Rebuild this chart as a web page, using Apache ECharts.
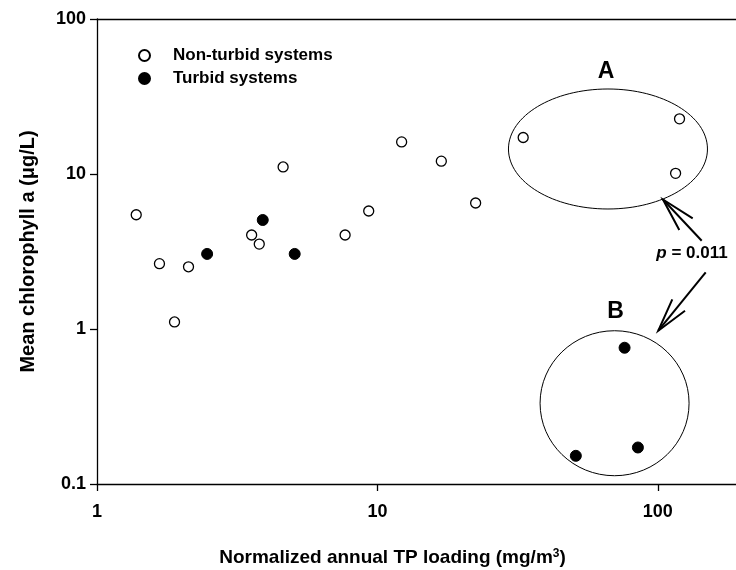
<!DOCTYPE html>
<html>
<head>
<meta charset="utf-8">
<script src="https://cdn.jsdelivr.net/npm/echarts@6/dist/echarts.min.js"></script>
<style>
html, body { margin: 0; padding: 0; background: #fff; }
#main { width: 736px; height: 570px; }
</style>
</head>
<body>
<div id="main"></div>
<script>
var font = '"Liberation Sans", Arial, sans-serif';

// normalized annual TP loading (mg/m3) and mean chlorophyll a (ug/L)
var nonTurbidTP  = [1.38, 1.67, 1.89, 2.12, 3.56, 3.79, 4.61, 7.67, 9.31, 12.2, 16.9, 22.4, 33.1, 115.7, 119.5];
var nonTurbidChl = [5.46, 2.64, 1.11, 2.52, 4.04, 3.53, 11.1, 4.04, 5.77, 16.1, 12.1, 6.5, 17.2, 10.1, 22.7];
var turbidTP  = [2.47, 3.90, 5.07, 51.0, 76.1, 84.9];
var turbidChl = [3.05, 5.05, 3.05, 0.152, 0.757, 0.172];

var seriesNames = ['Non-turbid systems', 'Turbid systems'];

function pairs(xs, ys) {
    return xs.map(function (x, i) { return [x, ys[i]]; });
}

var myChart = echarts.init(document.getElementById('main'));

var labelStyle = {
    color: '#000',
    fontSize: 18,
    fontWeight: 'bold',
    fontFamily: font
};
var blackLine = { color: '#000', width: 1.3 };

option = {
    animation: false,
    backgroundColor: '#fff',
    grid: { left: 97, right: 0, top: 19, bottom: 86, outerBoundsMode: 'none', containLabel: false },
    legend: {
        orient: 'vertical',
        left: 133,
        top: 42,
        itemWidth: 11,
        itemHeight: 11,
        itemGap: 6,
        data: seriesNames,
        textStyle: {
            color: '#000',
            fontSize: 17,
            fontWeight: 'bold',
            fontFamily: font,
            padding: [0, 0, 0, 18]
        }
    },
    xAxis: [
        {
            type: 'log',
            logBase: 10,
            min: 1,
            max: 190,
            position: 'bottom',
            name: '{t|Normalized annual TP loading (mg/m}{s|3}{t|)}',
            nameLocation: 'middle',
            nameGap: 64,
            nameTextStyle: {
                padding: [0, 48, 0, 0],
                rich: {
                    t: { fontSize: 19, fontWeight: 'bold', fontFamily: font, color: '#000' },
                    s: { fontSize: 12, fontWeight: 'bold', fontFamily: font, color: '#000',
                         verticalAlign: 'top', padding: [0, 0, 7, 0] }
                }
            },
            axisLine: { onZero: false, lineStyle: blackLine },
            axisTick: { show: true, length: 7, lineStyle: blackLine },
            axisLabel: Object.assign({ margin: 19, showMaxLabel: false }, labelStyle),
            splitLine: { show: false }
        },
        {
            type: 'log',
            min: 1,
            max: 190,
            position: 'top',
            axisLine: { onZero: false, lineStyle: blackLine },
            axisTick: { show: false },
            axisLabel: { show: false },
            splitLine: { show: false }
        }
    ],
    yAxis: {
        type: 'log',
        logBase: 10,
        min: 0.1,
        max: 100,
        name: 'Mean chlorophyll a (μg/L)',
        nameLocation: 'middle',
        nameGap: 59,
        nameTextStyle: {
            color: '#000',
            fontSize: 20,
            fontWeight: 'bold',
            fontFamily: font
        },
        axisLine: { onZero: false, lineStyle: blackLine },
        axisTick: { show: true, length: 7, lineStyle: blackLine },
        axisLabel: Object.assign({ margin: 11 }, labelStyle),
        splitLine: { show: false }
    },
    series: [
        {
            name: seriesNames[0],
            type: 'scatter',
            symbol: 'circle',
            symbolSize: 10,
            itemStyle: { color: '#fff', borderColor: '#000', borderWidth: 1.3, opacity: 1 },
            data: pairs(nonTurbidTP, nonTurbidChl)
        },
        {
            name: seriesNames[1],
            type: 'scatter',
            symbol: 'circle',
            symbolSize: 11,
            itemStyle: { color: '#000', borderColor: '#000', borderWidth: 1, opacity: 1 },
            data: pairs(turbidTP, turbidChl)
        }
    ]
};

myChart.setOption(option);

// group outlines, centred on the data space
var cA = myChart.convertToPixel({ xAxisIndex: 0, yAxisIndex: 0 }, [66.4, 14.5]);
var cB = myChart.convertToPixel({ xAxisIndex: 0, yAxisIndex: 0 }, [70.1, 0.332]);

var arrowStyle = { stroke: '#000', lineWidth: 2, fill: null };

myChart.setOption({
    graphic: [
        {
            type: 'ellipse',
            shape: { cx: cA[0], cy: cA[1], rx: 99.5, ry: 60 },
            style: { fill: null, stroke: '#000', lineWidth: 1 },
            z: 1
        },
        {
            type: 'ellipse',
            shape: { cx: cB[0], cy: cB[1], rx: 74.5, ry: 72.5 },
            style: { fill: null, stroke: '#000', lineWidth: 1 },
            z: 1
        },
        {
            type: 'text',
            x: cA[0] - 2, y: cA[1] - 77,
            style: { text: 'A', fontSize: 23, fontWeight: 'bold', fontFamily: font,
                     fill: '#000', align: 'center', verticalAlign: 'middle' }
        },
        {
            type: 'text',
            x: cB[0] + 1, y: cB[1] - 92,
            style: { text: 'B', fontSize: 23, fontWeight: 'bold', fontFamily: font,
                     fill: '#000', align: 'center', verticalAlign: 'middle' }
        },
        {
            type: 'text',
            x: 692, y: 253,
            style: {
                text: '{i|p}{n| = 0.011}',
                align: 'center',
                verticalAlign: 'middle',
                rich: {
                    i: { fontSize: 17, fontWeight: 'bold', fontStyle: 'italic', fontFamily: font, fill: '#000' },
                    n: { fontSize: 17, fontWeight: 'bold', fontFamily: font, fill: '#000' }
                }
            }
        },
        { type: 'line', shape: { x1: 701.7, y1: 240.7, x2: 663, y2: 199.5 }, style: arrowStyle },
        { type: 'polyline', shape: { points: [[692.7, 218.3], [663, 199.5], [679.3, 230]] }, style: arrowStyle },
        { type: 'line', shape: { x1: 705.7, y1: 272.3, x2: 658.3, y2: 330.7 }, style: arrowStyle },
        { type: 'polyline', shape: { points: [[672.3, 299.3], [658.3, 330.7], [685, 310.7]] }, style: arrowStyle }
    ]
});
</script>
</body>
</html>
